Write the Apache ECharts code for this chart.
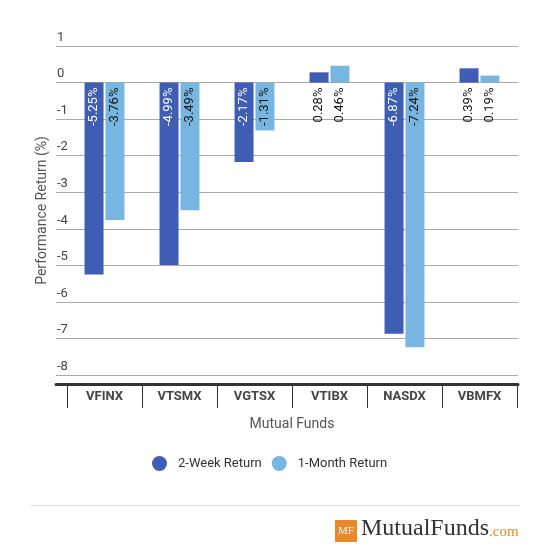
<!DOCTYPE html>
<html><head><meta charset="utf-8">
<script src="https://cdn.jsdelivr.net/npm/echarts@6/dist/echarts.min.js"></script>
<style>html,body{margin:0;padding:0;background:#fff}#c{width:550px;height:558px}</style>
</head><body><div id="c"></div>
<script>
const categories = ['VFINX','VTSMX','VGTSX','VTIBX','NASDX','VBMFX'];
const twoWeek = [-5.25,-4.99,-2.17,0.28,-6.87,0.39];
const oneMonth = [-3.76,-3.49,-1.31,0.46,-7.24,0.19];
const seriesNames = ['2-Week Return','1-Month Return'];
const yTicks = [-8,-7,-6,-5,-4,-3,-2,-1,0,1];

const FONT = 'Roboto';
const DARK = '#3F5DB5', LIGHT = '#76B6E0';

function mkData(vals, negColor){
  return vals.map(v => ({
    value: v,
    label: {
      show: true,
      position: v < 0 ? 'insideTop' : 'bottom',
      distance: 5,
      rotate: 90,
      align: 'right',
      verticalAlign: 'middle',
      color: v < 0 ? negColor : '#111',
      fontFamily: FONT,
      fontSize: 13,
      formatter: p => p.value.toFixed(2) + '%'
    }
  }));
}

const chart = echarts.init(document.getElementById('c'), null, {renderer:'canvas'});
chart.setOption({
  animation: false,
  textStyle: {fontFamily: FONT},
  grid: [
    {left: 56, right: 32, top: 46, bottom: 183},
    {left: 67, right: 33, top: 46, bottom: 183}
  ],
  legend: {
    data: seriesNames,
    bottom: 82,
    left: 147,
    icon: 'circle',
    itemWidth: 15, itemHeight: 15, itemGap: 10,
    textStyle: {fontFamily: FONT, fontSize: 13, color: '#333', padding: [0,0,0,6]}
  },
  xAxis: [
    {gridIndex: 0, type: 'value', min: 0, max: 1, show: true,
     axisLine: {show: true, onZero: false, lineStyle: {color: '#333', width: 3}},
     offset: 9, axisTick: {show: false}, axisLabel: {show: false}, splitLine: {show: false}},
    {gridIndex: 1, type: 'category', data: categories, offset: 9,
     axisLine: {show: false, onZero: false},
     axisTick: {show: true, alignWithLabel: false, length: 24, lineStyle: {color: '#333', width: 1}},
     axisLabel: {margin: 6, fontFamily: FONT, fontSize: 13, fontWeight: 'bold', color: '#444'},
     name: 'Mutual Funds', nameLocation: 'middle', nameGap: 33,
     nameTextStyle: {fontFamily: FONT, fontSize: 14, color: '#555'}}
  ],
  yAxis: [
    {gridIndex: 0, type: 'value', min: yTicks[0], max: yTicks[yTicks.length-1], interval: 1,
     axisLine: {show: false}, axisTick: {show: false},
     axisLabel: {inside: true, margin: 1, verticalAlign: 'bottom', padding: [0,0,2,0],
                 fontFamily: FONT, fontSize: 13, color: '#444'},
     splitLine: {show: true, lineStyle: {color: '#aaa', width: 1}},
     name: 'Performance Return (%)', nameLocation: 'middle', nameGap: 7, nameMoveOverlap: false,
     nameTextStyle: {fontFamily: FONT, fontSize: 14, color: '#555'}},
    {gridIndex: 1, type: 'value', min: yTicks[0], max: yTicks[yTicks.length-1], interval: 1, show: false,
     splitLine: {show: false}}
  ],
  series: [
    {name: seriesNames[0], type: 'bar', xAxisIndex: 1, yAxisIndex: 1, barWidth: 19, barGap: '10%',
     itemStyle: {color: DARK}, data: mkData(twoWeek, '#fff')},
    {name: seriesNames[1], type: 'bar', xAxisIndex: 1, yAxisIndex: 1, barWidth: 19, barGap: '10%',
     itemStyle: {color: LIGHT}, data: mkData(oneMonth, '#111')}
  ],
  graphic: [
    {type: 'line', shape: {x1: 30, y1: 505.5, x2: 520, y2: 505.5}, style: {stroke: '#ddd', lineWidth: 1}},
    {type: 'rect', shape: {x: 335, y: 520, width: 22, height: 22}, style: {fill: '#E8892B'}},
    {type: 'text', x: 346, y: 531, style: {text: 'MF', fill: '#fff', font: '11px "Liberation Serif"', align: 'center', verticalAlign: 'middle'}},
    {type: 'text', x: 361, y: 541, style: {
      text: '{a|MutualFunds}{b|.com}', verticalAlign: 'bottom',
      rich: {
        a: {fill: '#333', fontFamily: 'Liberation Serif', fontSize: 24, verticalAlign: 'bottom'},
        b: {fill: '#E8892B', fontFamily: 'Liberation Serif', fontSize: 15, verticalAlign: 'bottom', padding: [0,0,1,0]}
      }}}
  ]
});
</script></body></html>
